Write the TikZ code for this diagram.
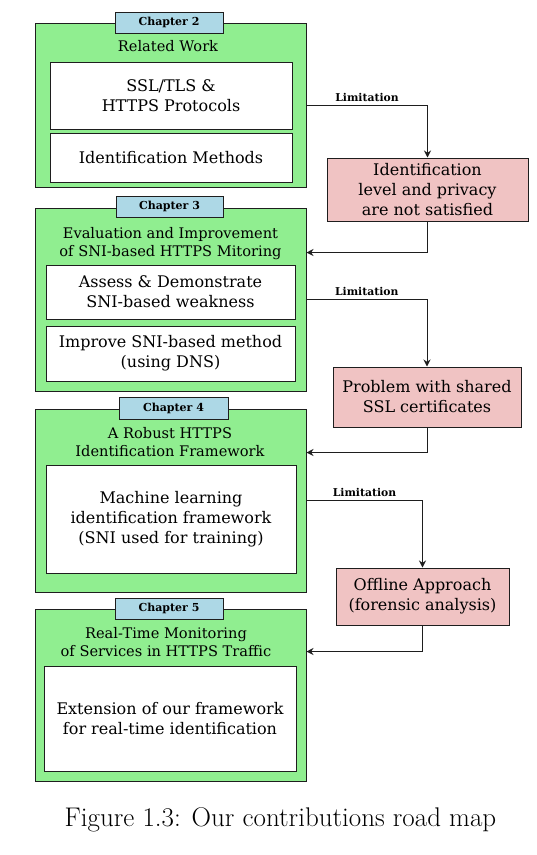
\documentclass[tikz,border=0pt]{standalone}
\usepackage{fontspec}
\newfontfamily\dvs{DejaVu Serif}
\usetikzlibrary{calc,arrows.meta}
\definecolor{grn}{RGB}{144,238,144}
\definecolor{tabblue}{RGB}{173,216,230}
\definecolor{lim}{RGB}{240,195,195}
\definecolor{edge}{RGB}{30,30,30}
\tikzset{
  chap/.style={draw=edge, line width=1pt, fill=grn, inner sep=0pt},
  tabbox/.style={draw=edge, line width=1pt, fill=tabblue, inner sep=0pt, font=\dvs\bfseries\fontsize{11}{13}\selectfont},
  ttl/.style={inner sep=0pt, align=center, font=\dvs\fontsize{14.6}{18}\selectfont},
  inbox/.style={draw=edge, line width=1pt, fill=white, inner sep=0pt, align=center, font=\dvs\fontsize{16}{20}\selectfont},
  limbox/.style={draw=edge, line width=1pt, fill=lim, inner sep=0pt, align=center, font=\dvs\fontsize{16}{20}\selectfont},
  conn/.style={draw=edge, line width=1pt, -{Stealth[length=7pt,width=7pt]}},
  limlbl/.style={font=\dvs\bfseries\fontsize{10.8}{12}\selectfont, inner sep=3pt, above}
}
\begin{document}
\begin{tikzpicture}[x=1pt,y=-1pt]
\useasboundingbox (0,0) rectangle (537,855);
% chapter 2
\node[chap, minimum width=271pt, minimum height=164pt] (g2) at (170.5,105) {};
\node[tabbox, minimum width=108pt, minimum height=21pt] (t2) at (169,22.5) {Chapter 2};
\node[ttl] (h2) at (168,46) {Related Work};
\node[inbox, minimum width=242pt, minimum height=67pt] (b2a) at (171,95.5) {SSL/TLS \&\\HTTPS Protocols};
\node[inbox, minimum width=242pt, minimum height=49pt] (b2b) at (171,157.5) {Identification Methods};
% chapter 3
\node[chap, minimum width=271pt, minimum height=183pt] (g3) at (170.5,299.5) {};
\node[tabbox, minimum width=107pt, minimum height=21pt] (t3) at (169.5,206.5) {Chapter 3};
\node[ttl] (h3) at (170.5,244) {Evaluation and Improvement\\of SNI-based HTTPS Mitoring};
\node[inbox, minimum width=249pt, minimum height=54pt] (b3a) at (170.5,292) {Assess \& Demonstrate\\SNI-based weakness};
\node[inbox, minimum width=249pt, minimum height=55pt] (b3b) at (170.5,353.5) {Improve SNI-based method\\(using DNS)};
% chapter 4
\node[chap, minimum width=271pt, minimum height=183pt] (g4) at (170.5,500.5) {};
\node[tabbox, minimum width=109pt, minimum height=22pt] (t4) at (173.5,408) {Chapter 4};
\node[ttl] (h4) at (170,442) {A Robust HTTPS\\Identification Framework};
\node[inbox, minimum width=250pt, minimum height=108pt] (b4) at (171,519) {Machine learning\\identification framework\\(SNI used for training)};
% chapter 5
\node[chap, minimum width=271pt, minimum height=172pt] (g5) at (170.5,695) {};
\node[tabbox, minimum width=108pt, minimum height=21pt] (t5) at (169,608.5) {Chapter 5};
\node[ttl] (h5) at (166,642.5) {Real-Time Monitoring\\of Services in HTTPS Traffic};
\node[inbox, minimum width=252pt, minimum height=105pt] (b5) at (170,718.5) {Extension of our framework\\for real-time identification};
% limitations
\node[limbox, minimum width=201pt, minimum height=63pt] (r1) at (427.5,189.5) {Identification\\level and privacy\\are not satisfied};
\node[limbox, minimum width=188pt, minimum height=60pt] (r2) at (427,397) {Problem with shared\\SSL certificates};
\node[limbox, minimum width=173pt, minimum height=57pt] (r3) at (422.5,596.5) {Offline Approach\\(forensic analysis)};
% connectors
\draw[conn] (g2.east) -| node[limlbl, pos=0.25] {Limitation} (r1.north);
\draw[conn] (r1.south) |- ($(g3.north east)+(0,45)$);
\draw[conn] (g3.east) -| node[limlbl, pos=0.25] {Limitation} (r2.north);
\draw[conn] (r2.south) |- ($(g4.north east)+(0,44)$);
\draw[conn] (g4.east) -| node[limlbl, pos=0.25] {Limitation} (r3.north);
\draw[conn] (r3.south) |- ($(g5.north east)+(0,43)$);
% caption
\node[inner sep=0pt, font=\fontsize{27}{32}\selectfont] (cap) at (280.5,820) {Figure 1.3: Our contributions road map};
\end{tikzpicture}
\end{document}
